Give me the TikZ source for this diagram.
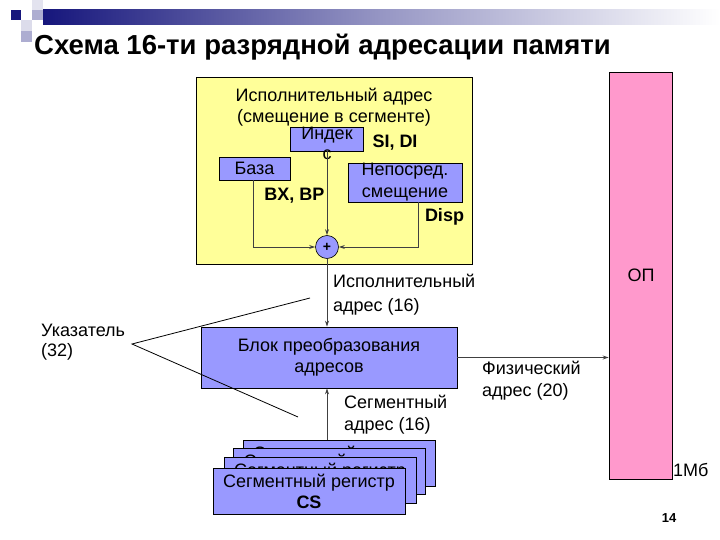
\documentclass[tikz,border=0pt]{standalone}
\usepackage{fontspec}
\setmainfont{Liberation Sans}
\usetikzlibrary{arrows.meta}
\definecolor{yel}{HTML}{FFFF99}
\definecolor{lav}{HTML}{9999FF}
\definecolor{pnk}{HTML}{FF99CC}
\definecolor{navyc}{HTML}{16167C}
\begin{document}
\begin{tikzpicture}[x=1pt,y=-1pt,
  every node/.style={inner sep=0pt},
  txt/.style={font=\fontsize{18}{21}\selectfont, align=center},
  txtl/.style={font=\fontsize{18}{22}\selectfont, align=left, anchor=west},
  bld/.style={font=\bfseries\fontsize{18}{21}\selectfont},
  lavbox/.style={draw=black, line width=0.6pt, fill=lav},
  segbox/.style={lavbox, minimum width=192, minimum height=46, txt},
  conn/.style={draw=black!75, line width=0.8pt, -{Stealth[length=6pt,width=4pt]}},
  plain/.style={draw=black, line width=0.8pt}]
\useasboundingbox (0,0) rectangle (720,540);
% header decoration
\fill[navyc] (11,10) rectangle (21,20);
\fill[navyc!12] (32,0) rectangle (43,10);
\fill[navyc!35] (32,10) rectangle (43,20);
\fill[navyc!15] (21,20) rectangle (32,31);
\fill[navyc!35] (21,31) rectangle (32,42);
\shade[left color=navyc, right color=white, middle color=navyc!45] (43,10) rectangle (720,25);
\node[font=\bfseries\fontsize{27.5}{32}\selectfont, anchor=base west] (title) at (34,55) {Схема 16-ти разрядной адресации памяти};
% yellow area
\node[draw=black, line width=0.6pt, fill=yel, minimum width=276, minimum height=187] (ea) at (334,170.5) {};
\node[txt] (eatxt) at (334,107.5) {Исполнительный адрес\\(смещение в сегменте)};
\node[lavbox, minimum width=73, minimum height=24] (idx) at (327,139) {};
\node[txt, font=\fontsize{18}{20}\selectfont] (idxtxt) at (327,143) {Индек\\с};
\node[lavbox, minimum width=71, minimum height=23] (base) at (254.5,168.5) {};
\node[txt] (basetxt) at (254.5,168.5) {База};
\node[lavbox, minimum width=114, minimum height=39, txt, font=\fontsize{18}{22}\selectfont] (disp) at (405,182.5) {Непосред.\\смещение};
\node[bld] (sidi) at (395,143) {SI, DI};
\node[bld] (bxbp) at (294.5,196) {BX, BP};
\node[bld] (dsp) at (444.5,217) {Disp};
\node[circle, lavbox, minimum size=23, font=\bfseries\fontsize{14}{14}\selectfont] (plus) at (327,247) {+};
\draw[conn] ([xshift=-1.5pt]base.south) |- (plus.west);
\draw[conn] (idx.south) -- (plus.north);
\draw[conn] ([xshift=13pt]disp.south) |- (plus.east);
% block
\node[lavbox, minimum width=256, minimum height=61, txt] (block) at (329,357.5) {Блок преобразования\\адресов};
\draw[conn] (plus.south) -- (plus.south |- block.north);
\node[txtl, font=\fontsize{18}{24}\selectfont] (ealbl) at (333,295) {Исполнительный\\адрес (16)};
% memory
\node[draw=black, line width=0.6pt, fill=pnk, minimum width=63, minimum height=407] (op) at (640.5,275.5) {};
\node[txt] (optxt) at (641,275) {ОП};
\node[txtl] (mb) at (673,470) {1Мб};
\draw[conn] (block.east) -- (block.east -| op.west);
\node[txtl] (phys) at (482,381) {Физический\\адрес (20)};
% pointer
\node[txtl, font=\fontsize{18}{20}\selectfont] (ptr) at (41,342) {Указатель\\(32)};
\coordinate (pv) at (132,344);
\coordinate (p1) at (310,298);
\coordinate (p2) at (298,417);
\draw[plain] (p1) -- (pv) -- (p2);
% segment registers
\node[segbox] (seg4) at (339,463.5) {Сегментный регистр\\\textbf{CS}};
\node[segbox] (seg3) at (329.5,471) {Сегментный регистр\\\textbf{CS}};
\node[segbox] (seg2) at (320,480) {Сегментный регистр\\\textbf{CS}};
\node[segbox] (seg1) at (309,491) {Сегментный регистр\\\textbf{CS}};
\draw[conn] (plus.south |- seg4.north) -- (plus.south |- block.south);
\node[txtl] (seglbl) at (344,415) {Сегментный\\адрес (16)};
\node[font=\bfseries\fontsize{13}{15}\selectfont] (pg) at (669,518) {14};
\end{tikzpicture}
\end{document}
